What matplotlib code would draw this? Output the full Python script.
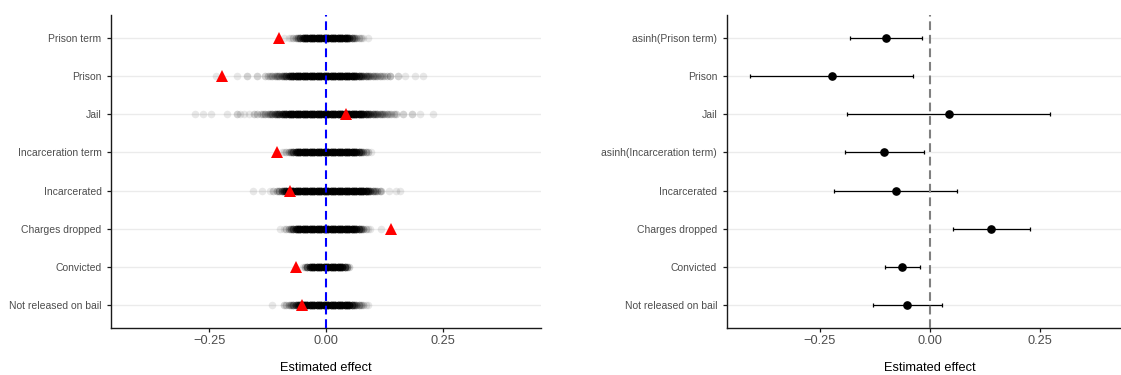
import numpy as np
import matplotlib
matplotlib.use("Agg")
import matplotlib.pyplot as plt

plt.rcParams["font.family"] = ["Liberation Sans", "DejaVu Sans"]

# Outcomes, listed top to bottom
outcomes_left = ["Prison term", "Prison", "Jail", "Incarceration term",
                 "Incarcerated", "Charges dropped", "Convicted",
                 "Not released on bail"]
outcomes_right = ["asinh(Prison term)", "Prison", "Jail",
                  "asinh(Incarceration term)", "Incarcerated",
                  "Charges dropped", "Convicted", "Not released on bail"]

# Point estimates and 95% confidence intervals
estimates = [-0.100, -0.222, 0.043, -0.104, -0.078, 0.139, -0.064, -0.051]
ci_low = [-0.182, -0.407, -0.188, -0.193, -0.218, 0.053, -0.103, -0.128]
ci_high = [-0.019, -0.038, 0.273, -0.013, 0.062, 0.226, -0.023, 0.027]

# Placebo (permuted) estimates as (value, number of draws at that value)
perm_prison_term = [
    (-0.090, 1), (-0.080, 1), (-0.075, 1), (-0.070, 2), (-0.065, 3),
    (-0.060, 5), (-0.055, 8), (-0.050, 12), (-0.045, 15), (-0.040, 15),
    (-0.035, 15), (-0.030, 15), (-0.025, 15), (-0.020, 15), (-0.015, 15),
    (-0.010, 15), (-0.005, 15), (0.000, 15), (0.005, 15), (0.010, 15),
    (0.015, 15), (0.020, 15), (0.025, 15), (0.030, 15), (0.035, 15),
    (0.040, 15), (0.045, 15), (0.050, 10), (0.055, 7), (0.060, 5),
    (0.065, 3), (0.070, 2), (0.075, 2), (0.080, 1), (0.090, 1)]

perm_prison = [
    (-0.236, 1), (-0.190, 1), (-0.170, 2), (-0.148, 2), (-0.130, 2),
    (-0.125, 2), (-0.120, 2), (-0.115, 3), (-0.110, 3), (-0.105, 4),
    (-0.100, 4), (-0.095, 5), (-0.090, 6), (-0.085, 8), (-0.080, 10),
    (-0.075, 12), (-0.070, 15), (-0.065, 15), (-0.060, 15), (-0.055, 15),
    (-0.050, 15), (-0.045, 15), (-0.040, 15), (-0.035, 15), (-0.030, 15),
    (-0.025, 15), (-0.020, 15), (-0.015, 15), (-0.010, 15), (-0.005, 15),
    (0.000, 15), (0.005, 15), (0.010, 15), (0.015, 15), (0.020, 15),
    (0.025, 15), (0.030, 15), (0.035, 15), (0.040, 15), (0.045, 15),
    (0.050, 15), (0.055, 15), (0.060, 15), (0.065, 12), (0.070, 10),
    (0.075, 8), (0.080, 6), (0.085, 6), (0.090, 5), (0.095, 4),
    (0.100, 4), (0.105, 3), (0.110, 3), (0.115, 3), (0.120, 2),
    (0.125, 2), (0.130, 2), (0.137, 3), (0.154, 2), (0.169, 1),
    (0.190, 1), (0.208, 1)]

perm_jail = [
    (-0.281, 1), (-0.263, 1), (-0.246, 1), (-0.213, 1), (-0.190, 2),
    (-0.185, 1), (-0.175, 1), (-0.165, 1), (-0.155, 2), (-0.148, 2),
    (-0.140, 2), (-0.135, 2), (-0.130, 3), (-0.125, 3), (-0.120, 4),
    (-0.115, 5), (-0.110, 6), (-0.105, 7), (-0.100, 8), (-0.095, 9),
    (-0.090, 10), (-0.085, 12), (-0.080, 13), (-0.075, 15), (-0.070, 15),
    (-0.065, 15), (-0.060, 15), (-0.055, 15), (-0.050, 15), (-0.045, 15),
    (-0.040, 15), (-0.035, 15), (-0.030, 15), (-0.025, 15), (-0.020, 15),
    (-0.015, 15), (-0.010, 15), (-0.005, 15), (0.000, 15), (0.005, 15),
    (0.010, 15), (0.015, 15), (0.020, 15), (0.025, 15), (0.030, 15),
    (0.035, 15), (0.040, 15), (0.045, 15), (0.050, 15), (0.055, 15),
    (0.060, 15), (0.065, 15), (0.070, 15), (0.075, 15), (0.080, 12),
    (0.085, 10), (0.090, 8), (0.095, 7), (0.100, 6), (0.105, 5),
    (0.110, 5), (0.115, 4), (0.120, 4), (0.125, 3), (0.130, 3),
    (0.135, 2), (0.140, 2), (0.145, 2), (0.150, 2), (0.166, 2),
    (0.184, 2), (0.201, 1), (0.230, 1)]

perm_incarceration_term = [
    (-0.095, 1), (-0.090, 1), (-0.085, 2), (-0.080, 3), (-0.075, 5),
    (-0.070, 8), (-0.065, 12), (-0.060, 15), (-0.055, 15), (-0.050, 15),
    (-0.045, 15), (-0.040, 15), (-0.035, 15), (-0.030, 15), (-0.025, 15),
    (-0.020, 15), (-0.015, 15), (-0.010, 15), (-0.005, 15), (0.000, 15),
    (0.005, 15), (0.010, 15), (0.015, 15), (0.020, 15), (0.025, 15),
    (0.030, 15), (0.035, 15), (0.040, 15), (0.045, 15), (0.050, 15),
    (0.055, 15), (0.060, 15), (0.065, 13), (0.070, 10), (0.075, 7),
    (0.080, 4), (0.085, 3), (0.090, 2), (0.097, 1)]

perm_incarcerated = [
    (-0.156, 1), (-0.138, 1), (-0.120, 1), (-0.113, 2), (-0.105, 3),
    (-0.100, 4), (-0.095, 6), (-0.090, 9), (-0.085, 12), (-0.080, 15),
    (-0.075, 15), (-0.070, 15), (-0.065, 15), (-0.060, 15), (-0.055, 15),
    (-0.050, 15), (-0.045, 15), (-0.040, 15), (-0.035, 15), (-0.030, 15),
    (-0.025, 15), (-0.020, 15), (-0.015, 15), (-0.010, 15), (-0.005, 15),
    (0.000, 15), (0.005, 15), (0.010, 15), (0.015, 15), (0.020, 15),
    (0.025, 15), (0.030, 15), (0.035, 15), (0.040, 15), (0.045, 15),
    (0.050, 15), (0.055, 15), (0.060, 15), (0.065, 15), (0.070, 15),
    (0.075, 15), (0.080, 15), (0.085, 14), (0.090, 10), (0.095, 7),
    (0.100, 5), (0.105, 4), (0.110, 3), (0.115, 2), (0.119, 2),
    (0.135, 1), (0.151, 1), (0.159, 1)]

perm_charges_dropped = [
    (-0.099, 1), (-0.090, 1), (-0.085, 2), (-0.080, 3), (-0.075, 5),
    (-0.070, 8), (-0.065, 12), (-0.060, 15), (-0.055, 15), (-0.050, 15),
    (-0.045, 15), (-0.040, 15), (-0.035, 15), (-0.030, 15), (-0.025, 15),
    (-0.020, 15), (-0.015, 15), (-0.010, 15), (-0.005, 15), (0.000, 15),
    (0.005, 15), (0.010, 15), (0.015, 15), (0.020, 15), (0.025, 15),
    (0.030, 15), (0.035, 15), (0.040, 15), (0.045, 15), (0.050, 15),
    (0.055, 15), (0.060, 14), (0.065, 12), (0.070, 9), (0.075, 6),
    (0.080, 4), (0.085, 2), (0.090, 1), (0.094, 1), (0.119, 1)]

perm_convicted = [
    (-0.050, 1), (-0.045, 3), (-0.040, 8), (-0.035, 12), (-0.030, 15),
    (-0.025, 15), (-0.020, 15), (-0.015, 15), (-0.010, 15), (-0.005, 15),
    (0.000, 15), (0.005, 15), (0.010, 15), (0.015, 15), (0.020, 15),
    (0.025, 15), (0.030, 15), (0.035, 14), (0.040, 10), (0.045, 5),
    (0.050, 2)]

perm_not_released = [
    (-0.116, 1), (-0.091, 2), (-0.085, 2), (-0.080, 3), (-0.075, 4),
    (-0.070, 6), (-0.065, 8), (-0.060, 10), (-0.055, 12), (-0.050, 15),
    (-0.045, 15), (-0.040, 15), (-0.035, 15), (-0.030, 15), (-0.025, 15),
    (-0.020, 15), (-0.015, 15), (-0.010, 15), (-0.005, 15), (0.000, 15),
    (0.005, 15), (0.010, 15), (0.015, 15), (0.020, 15), (0.025, 15),
    (0.030, 15), (0.035, 15), (0.040, 15), (0.045, 15), (0.050, 15),
    (0.055, 10), (0.060, 7), (0.065, 5), (0.070, 4), (0.075, 3),
    (0.080, 2), (0.085, 1), (0.091, 1)]

perm_draws = [perm_prison_term, perm_prison, perm_jail,
              perm_incarceration_term, perm_incarcerated,
              perm_charges_dropped, perm_convicted, perm_not_released]

xticks = [-0.25, 0.0, 0.25]
xticklabels = ["\u22120.25", "0.00", "0.25"]

n_rows = len(outcomes_left)
rows = np.arange(n_rows, 0, -1)  # top row gets the largest position

fig = plt.figure(figsize=(11.21, 3.75), dpi=100)
ax_l = fig.add_axes([0.0990, 0.1253, 0.3836, 0.8347])
ax_r = fig.add_axes([0.6482, 0.1253, 0.3627, 0.8347])

TICK_GREY = "#4d4d4d"
SPINE = "#1a1a1a"


def style_axes(ax, labels):
    ax.set_xlim(-0.461, 0.461)
    ax.set_ylim(0.4, n_rows + 0.6)
    ax.set_yticks(rows)
    ax.set_yticklabels(labels)
    ax.set_xticks(xticks)
    ax.set_xticklabels(xticklabels)
    for side in ("top", "right"):
        ax.spines[side].set_visible(False)
    for side in ("left", "bottom"):
        ax.spines[side].set_color(SPINE)
        ax.spines[side].set_linewidth(1.0)
    ax.tick_params(axis="y", length=2.6, width=0.9, color=SPINE, pad=4.2,
                   labelsize=7.5, labelcolor=TICK_GREY)
    ax.tick_params(axis="x", length=2.6, width=0.9, color=SPINE, pad=2.4,
                   labelsize=9.2, labelcolor=TICK_GREY)
    for r in rows:
        ax.axhline(r, color="#ebebeb", lw=1.0, zorder=0)
    ax.set_xlabel("Estimated effect", fontsize=9.2, color="black")
    ax.xaxis.set_label_coords(0.5, -0.108)


# Left panel: placebo distributions with the actual estimate
style_axes(ax_l, outcomes_left)
for r, draws in zip(rows, perm_draws):
    vals = [v for v, _ in draws]
    cnts = [c for _, c in draws]
    xs = np.repeat(vals, cnts)
    ax_l.scatter(xs, np.full(xs.shape, r), s=30, color="black", alpha=0.09,
                 linewidths=0, zorder=2)
ax_l.axvline(0, color="#0000ff", lw=1.5, dashes=(4.2, 2.3), zorder=3)
ax_l.plot(estimates, rows, linestyle="none", marker="^", markersize=8.2,
          color="#ff0000", markeredgewidth=0, zorder=4)

# Right panel: estimates with confidence intervals
style_axes(ax_r, outcomes_right)
est = np.array(estimates)
err = np.vstack([est - np.array(ci_low), np.array(ci_high) - est])
ax_r.errorbar(est, rows, xerr=err, fmt="none", ecolor="black", elinewidth=0.9,
              capsize=1.5, capthick=0.9, zorder=2)
ax_r.axvline(0, color="#808080", lw=1.5, dashes=(4.2, 2.3), zorder=3)
ax_r.plot(est, rows, linestyle="none", marker="o", markersize=5.2,
          color="black", zorder=4)

fig.savefig("out.png", dpi=100)
